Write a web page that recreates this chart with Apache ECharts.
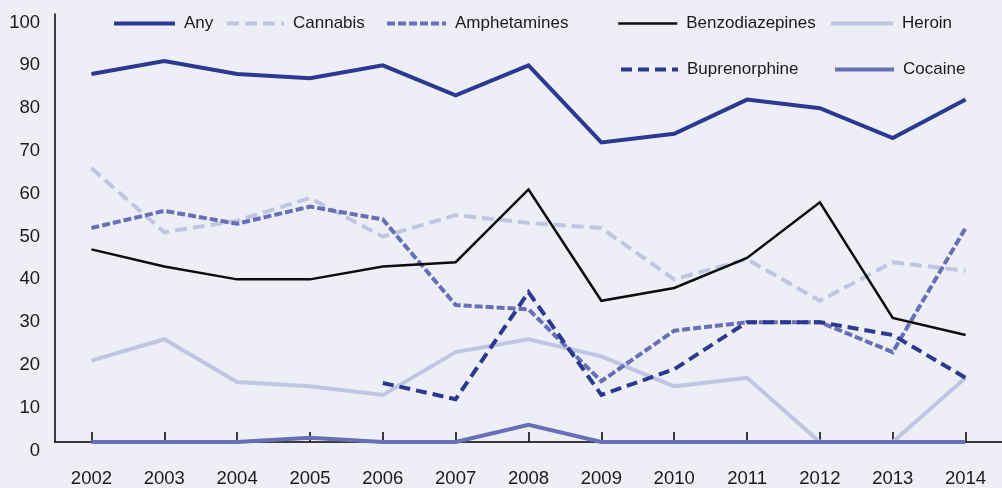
<!DOCTYPE html>
<html>
<head>
<meta charset="utf-8">
<script src="https://cdn.jsdelivr.net/npm/echarts@6/dist/echarts.min.js"></script>
<style>
html,body{margin:0;padding:0;background:#EDEEF6;}
#c{width:1002px;height:488px;}
</style>
</head>
<body>
<div id="c"></div>
<script>
const years = ['2002','2003','2004','2005','2006','2007','2008','2009','2010','2011','2012','2013','2014'];
const anyDrug = [86,89,86,85,88,81,88,70,72,80,78,71,80];
const cannabis = [64,49,51.7,57,48,53,51.2,50,38,42.7,33,42,40];
const amphetamines = [50,54,51,55,52,32,31,14.2,26,28,28,21,50];
const benzodiazepines = [45,41,38,38,41,42,59,33,36,43,56,29,25];
const heroin = [19,24,14,13,11,21,24,20,13,15,0,0,15];
const buprenorphine = [null,null,null,null,13.8,10,35,11,17,28,28,25,15];
const cocaine = [0,0,0,1,0,0,4,0,0,0,0,0,0];
const yTicks = [0,10,20,30,40,50,60,70,80,90,100];

// pick a narrow font if one is installed, else Liberation Sans at a smaller size
function hasFont(name){
  const ctx = document.createElement('canvas').getContext('2d');
  ctx.font = '20px monospace';
  const w0 = ctx.measureText('Benzodiazepines 2002').width;
  ctx.font = '20px "' + name + '", monospace';
  return ctx.measureText('Benzodiazepines 2002').width !== w0;
}
let FONT, LEG_SIZE, AX_SIZE;
if (hasFont('Liberation Sans Narrow')) { FONT = '"Liberation Sans Narrow"'; LEG_SIZE = 20; AX_SIZE = 21; }
else if (hasFont('Arial Narrow')) { FONT = '"Arial Narrow"'; LEG_SIZE = 20; AX_SIZE = 21; }
else { FONT = '"Liberation Sans", Arial, sans-serif'; LEG_SIZE = 17; AX_SIZE = 18.5; }

const NAVY = '#2B3990';
const MID = '#6770B6';
const LIGHT = '#C0C6E1';

function mkSeries(name, data, color, width, type, z){
  return {
    name: name, type: 'line', data: data, symbol: 'none', z: z,
    lineStyle: {color: color, width: width, type: type, cap: 'butt', join: 'miter'},
    itemStyle: {color: color},
    emphasis: {disabled: true}
  };
}

function mkLegend(name, left, top, w, lw){
  return {
    data: [name], left: left - 5, top: top, itemWidth: w, itemHeight: 14,
    itemStyle: {opacity: 0},
    lineStyle: {width: lw},
    textStyle: {fontFamily: FONT, fontSize: LEG_SIZE, color: '#1a1a1a', padding: [0,0,0,4]},
    selectedMode: false
  };
}

const chart = echarts.init(document.getElementById('c'), null, {renderer: 'canvas'});
chart.setOption({
  backgroundColor: '#EDEEF6',
  animation: false,
  legend: [
    mkLegend('Any', 112, 10, 61, 4),
    mkLegend('Cannabis', 225, 10, 57, 4),
    mkLegend('Amphetamines', 385, 10, 59, 4),
    mkLegend('Benzodiazepines', 617, 10, 59, 2.5),
    mkLegend('Heroin', 829, 10, 62, 4),
    mkLegend('Buprenorphine', 619, 56, 57, 4),
    mkLegend('Cocaine', 833, 56, 59, 4)
  ],
  grid: {left: 55, right: -9, top: 14, bottom: 45.5, containLabel: false},
  xAxis: {
    type: 'category', data: years, boundaryGap: true,
    axisLine: {lineStyle: {color: '#000', width: 1.5}},
    axisTick: {show: true, inside: true, length: 10, alignWithLabel: true, lineStyle: {color: '#000', width: 1.5}},
    axisLabel: {fontFamily: FONT, fontSize: AX_SIZE, color: '#1a1a1a', margin: 27},
    splitLine: {show: false}
  },
  yAxis: {
    type: 'value', min: yTicks[0], max: yTicks[yTicks.length-1], interval: 10,
    axisLine: {show: true, lineStyle: {color: '#000', width: 1.5}},
    axisTick: {show: false},
    axisLabel: {fontFamily: FONT, fontSize: AX_SIZE, color: '#1a1a1a', margin: 15, verticalAlign: 'top', lineHeight: 17},
    splitLine: {show: false}
  },
  series: [
    mkSeries('Any', anyDrug, NAVY, 4, 'solid', 10),
    mkSeries('Cannabis', cannabis, LIGHT, 4, [12,6], 3),
    mkSeries('Amphetamines', amphetamines, MID, 4, [8,3], 4),
    mkSeries('Benzodiazepines', benzodiazepines, '#0d0d0d', 2.5, 'solid', 5),
    mkSeries('Heroin', heroin, LIGHT, 4, 'solid', 2),
    mkSeries('Buprenorphine', buprenorphine, NAVY, 4, [11,6], 6),
    mkSeries('Cocaine', cocaine, MID, 4, 'solid', 7)
  ]
});
</script>
</body>
</html>
